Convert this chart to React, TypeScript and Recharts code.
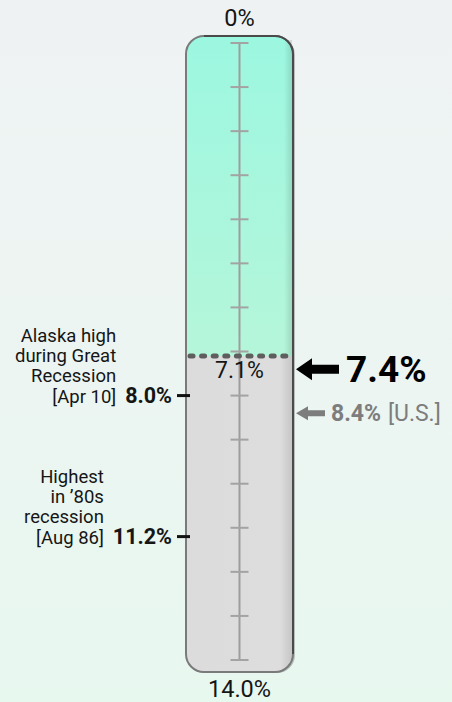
import React from "react";
import { BarChart, Bar, XAxis, YAxis, ReferenceLine } from "recharts";

// gauge data
const categories = ["Alaska"];
const currentRate = [7.1];
const currentLabel = ["7.1%"];
const scaleMax = 14;
const scaleTicks = [0, 1, 2, 3, 4, 5, 6, 7, 8, 9, 10, 11, 12, 13, 14];
const endLabels = ["0%", "14.0%"];

// historic highs shown on the left
const historicHighs = [8.0, 11.2];
const historicValueLabels = ["8.0%", "11.2%"];
const historicNotes = [
  ["Alaska high", "during Great", "Recession", "[Apr 10]"],
  ["Highest", "in ’80s", "recession", "[Aug 86]"],
];

// comparison arrows on the right
const comparisons = [7.4, 8.4];
const comparisonLabels = ["7.4%", "8.4%"];
const comparisonSuffix = ["", "[U.S.]"];

const W = 452;
const H = 702;
const FONT = "Roboto, 'Noto Sans', sans-serif";
const R = 18;

const data = categories.map((name, i) => ({ name, rate: currentRate[i] }));

let ctx: CanvasRenderingContext2D | null = null;
function textWidth(text: string, font: string) {
  if (!ctx) ctx = document.createElement("canvas").getContext("2d");
  if (!ctx) return text.length * 10;
  ctx.font = font;
  return ctx.measureText(text).width;
}

function capsulePath(x: number, top: number, w: number, bottom: number, roundTop: boolean, roundBottom: boolean) {
  const rt = roundTop ? R : 0;
  const rb = roundBottom ? R : 0;
  return [
    `M${x},${top + rt}`,
    rt ? `A${rt},${rt} 0 0 1 ${x + rt},${top}` : "",
    `L${x + w - rt},${top}`,
    rt ? `A${rt},${rt} 0 0 1 ${x + w},${top + rt}` : "",
    `L${x + w},${bottom - rb}`,
    rb ? `A${rb},${rb} 0 0 1 ${x + w - rb},${bottom}` : "",
    `L${x + rb},${bottom}`,
    rb ? `A${rb},${rb} 0 0 1 ${x},${bottom - rb}` : "",
    "Z",
  ].join(" ");
}

const Capsule = (props: any) => {
  const { x, y, width, height } = props;
  return (
    <g>
      <path d={capsulePath(x + 2, y + 1, width, y + height + 1, true, true)} fill="rgba(0,0,0,0.22)" />
      <path d={capsulePath(x, y, width, y + height, true, true)} fill="url(#grayFill)" />
    </g>
  );
};

const TealShape = (props: any) => {
  const { x, y, width, height, background } = props;
  const bottom = Math.max(y, y + height);
  const top = background ? background.y : Math.min(y, y + height) - 7;
  return (
    <g>
      <path d={capsulePath(x, top, width, bottom, true, false)} fill="url(#tealFill)" />
      <rect x={x + width - 9} y={top + 4} width={8} height={bottom - top - 4} fill="url(#edgeShade)" />
      {background && (
        <g>
          <path
            d={capsulePath(x, background.y, width, background.y + background.height, true, true)}
            fill="none"
            stroke="#7a7a7a"
            strokeWidth={2}
          />
          <path
            d={`M${x + R},${background.y} L${x + width - R},${background.y} A${R},${R} 0 0 1 ${x + width},${background.y + R} L${x + width},${background.y + background.height - R}`}
            fill="none"
            stroke="#4a4a4a"
            strokeWidth={2}
          />
        </g>
      )}
    </g>
  );
};

const TickShape = (p: any) => {
  const mid = (p.x1 + p.x2) / 2;
  return <line x1={mid - 9} x2={mid + 9} y1={p.y1} y2={p.y1} stroke="#a3a3a3" strokeWidth={2} />;
};

const EndLabel = (text: string, above: boolean) => (p: any) => {
  const mid = (p.x1 + p.x2) / 2;
  return (
    <text x={mid} y={above ? p.y1 - 17 : p.y1 + 37} textAnchor="middle" fontFamily={FONT} fontSize={23.5} fill="#151515">
      {text}
    </text>
  );
};

const CurrentLine = (p: any) => {
  const mid = (p.x1 + p.x2) / 2;
  return (
    <g>
      <line
        x1={p.x1 + 4}
        x2={p.x2 - 3}
        y1={p.y1}
        y2={p.y1}
        stroke="#5e5e5e"
        strokeWidth={5}
        strokeLinecap="round"
        strokeDasharray="3 8.6"
      />
      <text x={mid} y={p.y1 + 22} textAnchor="middle" fontFamily={FONT} fontSize={23} fill="#151515">
        {currentLabel[0]}
      </text>
    </g>
  );
};

const HistoricMark = (i: number) => (p: any) => {
  const valueEnd = p.x1 - 14;
  const valueFont = `bold 21.5px Roboto`;
  const valueW = textWidth(historicValueLabels[i], valueFont);
  const noteEnd = valueEnd - valueW - 9;
  const lines = historicNotes[i];
  const base = p.y1 + 7;
  return (
    <g fontFamily={FONT} fill="#151515">
      <line x1={p.x1 - 9} x2={p.x1 + 4} y1={p.y1} y2={p.y1} stroke="#111" strokeWidth={3} />
      <text x={valueEnd} y={base} textAnchor="end" fontSize={21.5} fontWeight="bold">
        {historicValueLabels[i]}
      </text>
      {lines.map((line, k) => (
        <text key={k} x={noteEnd} y={base - (lines.length - 1 - k) * 20.2} textAnchor="end" fontSize={18.5}>
          {line}
        </text>
      ))}
    </g>
  );
};

function arrowPath(tip: number, cy: number, len: number, headW: number, headH: number, shaft: number) {
  return [
    `M${tip},${cy}`,
    `L${tip + headW},${cy - headH / 2}`,
    `L${tip + headW},${cy - shaft / 2}`,
    `L${tip + len},${cy - shaft / 2}`,
    `L${tip + len},${cy + shaft / 2}`,
    `L${tip + headW},${cy + shaft / 2}`,
    `L${tip + headW},${cy + headH / 2}`,
    "Z",
  ].join(" ");
}

const ComparisonMark = (i: number) => (p: any) => {
  const tip = p.x2 + 3;
  const big = i === 0;
  const color = big ? "#000" : "#7d7d7d";
  return (
    <g fontFamily={FONT}>
      <path
        d={big ? arrowPath(tip, p.y1, 43, 16, 22, 9) : arrowPath(tip, p.y1, 29, 12, 14, 6)}
        fill={color}
      />
      <text x={big ? tip + 50 : tip + 35} y={big ? p.y1 + 13 : p.y1 + 8} fill={color} fontSize={big ? 37 : 23}>
        <tspan fontWeight="bold">{comparisonLabels[i]}</tspan>
        {comparisonSuffix[i] && <tspan dx={7}>{comparisonSuffix[i]}</tspan>}
      </text>
    </g>
  );
};

export default function App() {
  return (
    <div
      style={{
        position: "absolute",
        left: 0,
        top: 0,
        width: W,
        height: H,
        background: "linear-gradient(180deg, #eff2f3 0%, #ecf5f2 55%, #e7f8ef 100%)",
      }}
    >
      <BarChart
        width={W}
        height={H}
        data={data}
        margin={{ top: 36, bottom: 30, left: 186, right: 159 }}
        barCategoryGap={0}
      >
        <defs>
          <linearGradient id="tealFill" x1="0" y1="0" x2="0" y2="1">
            <stop offset="0%" stopColor="#9cf7e0" />
            <stop offset="100%" stopColor="#b5f6da" />
          </linearGradient>
          <linearGradient id="grayFill" x1="0" y1="0" x2="1" y2="0">
            <stop offset="0%" stopColor="#dcdcdc" />
            <stop offset="88%" stopColor="#dddddd" />
            <stop offset="100%" stopColor="#c4c4c4" />
          </linearGradient>
          <linearGradient id="edgeShade" x1="0" y1="0" x2="1" y2="0">
            <stop offset="0%" stopColor="rgba(0,0,0,0)" />
            <stop offset="100%" stopColor="rgba(0,0,0,0.12)" />
          </linearGradient>
        </defs>
        <XAxis dataKey="name" type="category" hide />
        <YAxis type="number" domain={[0, scaleMax]} reversed hide padding={{ top: 7, bottom: 12 }} />
        <Bar
          dataKey="rate"
          isAnimationActive={false}
          background={<Capsule />}
          shape={<TealShape />}
        />
        <ReferenceLine
          segment={[
            { x: categories[0], y: 0 },
            { x: categories[0], y: scaleMax },
          ]}
          stroke="#9d9d9d"
          strokeWidth={2}
        />
        {scaleTicks.map((t) => (
          <ReferenceLine key={`t${t}`} y={t} shape={TickShape} />
        ))}
        <ReferenceLine y={0} shape={EndLabel(endLabels[0], true)} />
        <ReferenceLine y={scaleMax} shape={EndLabel(endLabels[1], false)} />
        <ReferenceLine y={currentRate[0]} shape={CurrentLine} />
        {historicHighs.map((v, i) => (
          <ReferenceLine key={`h${i}`} y={v} shape={HistoricMark(i)} />
        ))}
        {comparisons.map((v, i) => (
          <ReferenceLine key={`c${i}`} y={v} shape={ComparisonMark(i)} />
        ))}
      </BarChart>
    </div>
  );
}
